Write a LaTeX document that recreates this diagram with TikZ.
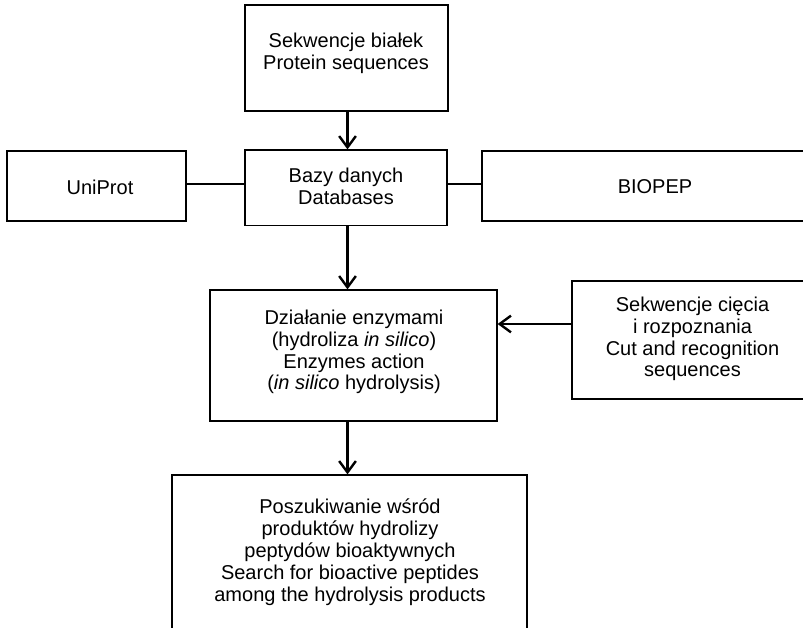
\documentclass[tikz,border=0pt]{standalone}
\usepackage{fontspec}
\setmainfont{Liberation Sans}
\usetikzlibrary{arrows.meta}
\begin{document}
\begin{tikzpicture}[x=0.75pt,y=-0.75pt,
  box/.style={draw=black,line width=0.9pt,rectangle,inner sep=0pt},
  lbl/.style={inner sep=0pt,align=center,font=\fontsize{15}{16.4}\selectfont},
  arr/.style={line width=1.8pt,-{Straight Barb[length=8.5pt,width=12.5pt]}},
  link/.style={line width=0.9pt}]
\useasboundingbox (0,0) rectangle (803,628);
% boxes
\node[box,minimum width=152.25pt,minimum height=79.5pt] (b1) at (346.5,58) {};
\node[box,minimum width=151.5pt,minimum height=56.6pt] (b2) at (346,187.75) {};
\node[box,minimum width=134.25pt,minimum height=52.5pt] (uni) at (96.5,186) {};
\node[box,minimum width=259.5pt,minimum height=52.5pt] (bio) at (655,186) {};
\node[box,minimum width=215.25pt,minimum height=98.25pt] (b3) at (353.5,355.5) {};
\node[box,minimum width=180pt,minimum height=88.5pt] (b4) at (692,340) {};
\node[box,minimum width=266.25pt,minimum height=123.75pt] (b5) at (349.5,557.5) {};
% texts
\node[lbl] (t1) at (346,53) {Sekwencje białek\\Protein sequences};
\node[lbl] (t2) at (346,186.3) {Bazy danych\\Databases};
\node[lbl] (tu) at (100,187) {UniProt};
\node[lbl] (tb) at (655,187) {BIOPEP};
\node[lbl] (t3) at (354,352) {Działanie enzymami\\(hydroliza \textit{in silico})\\Enzymes action\\(\textit{in silico} hydrolysis)};
\node[lbl] (t4) at (692.5,339) {Sekwencje cięcia\\i rozpoznania\\Cut and recognition\\sequences};
\node[lbl] (t5) at (350,552.4) {Poszukiwanie wśród\\produktów hydrolizy\\peptydów bioaktywnych\\Search for bioactive peptides\\among the hydrolysis products};
% helper coordinates
\coordinate (yl) at (0,184);
\coordinate (ya) at (0,324);
\coordinate (xa) at (347.5,0);
% connectors
\draw[link] (uni.east |- yl) -- (b2.west |- yl);
\draw[link] (b2.east |- yl) -- (bio.west |- yl);
\draw[arr] (b1.south -| xa) -- (b2.north -| xa);
\draw[arr] (b2.south -| xa) -- (b3.north -| xa);
\draw[arr] (b3.south -| xa) -- (b5.north -| xa);
\draw[arr] (b4.west |- ya) -- (b3.east |- ya);
\end{tikzpicture}
\end{document}
